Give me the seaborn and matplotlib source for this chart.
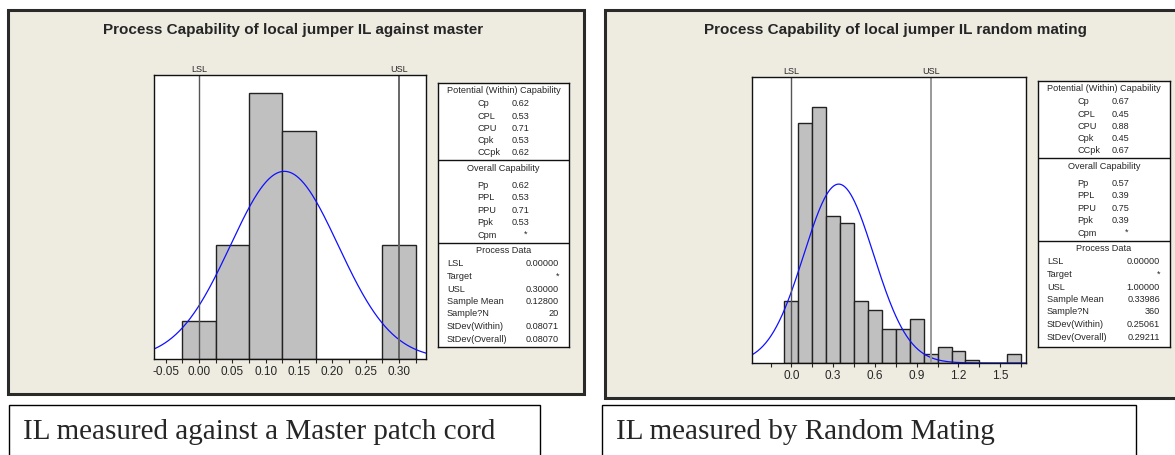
import numpy as np
import matplotlib
matplotlib.use("Agg")
import matplotlib.pyplot as plt
import seaborn as sns
from matplotlib.patches import Rectangle

# ---- data ----
# left: IL measured against a master patch cord (N = 20)
master_edges = [-0.025, 0.025, 0.075, 0.125, 0.175, 0.225, 0.275, 0.325]
master_counts = [1, 3, 7, 6, 0, 0, 3]
master_lsl, master_usl = 0.0, 0.30
master_mean, master_sd = 0.128, 0.08071
master_ticks = [-0.05, 0.00, 0.05, 0.10, 0.15, 0.20, 0.25, 0.30]
master_minor = [-0.025, 0.025, 0.075, 0.125, 0.175, 0.225, 0.275, 0.325]
master_ticklabels = ["-0.05", "0.00", "0.05", "0.10", "0.15", "0.20", "0.25", "0.30"]

# right: IL measured by random mating (N = 360)
random_edges = [-0.05, 0.05, 0.15, 0.25, 0.35, 0.45, 0.55, 0.65, 0.75, 0.85,
                0.95, 1.05, 1.15, 1.25, 1.35, 1.45, 1.55, 1.65]
random_counts = [20, 77, 82, 47, 45, 20, 17, 11, 11, 14, 3, 5, 4, 1, 0, 0, 3]
random_lsl, random_usl = 0.0, 1.0
random_mean, random_sd = 0.33986, 0.25061
random_ticks = [0.0, 0.3, 0.6, 0.9, 1.2, 1.5]
random_minor = [-0.15, 0.15, 0.45, 0.75, 1.05, 1.35, 1.65]
random_ticklabels = ["0.0", "0.3", "0.6", "0.9", "1.2", "1.5"]

master_potential = [("Cp", "0.62"), ("CPL", "0.53"), ("CPU", "0.71"), ("Cpk", "0.53"), ("CCpk", "0.62")]
master_overall = [("Pp", "0.62"), ("PPL", "0.53"), ("PPU", "0.71"), ("Ppk", "0.53"), ("Cpm", "*")]
master_process = [("LSL", "0.00000"), ("Target", "*"), ("USL", "0.30000"), ("Sample Mean", "0.12800"),
                  ("Sample?N", "20"), ("StDev(Within)", "0.08071"), ("StDev(Overall)", "0.08070")]

random_potential = [("Cp", "0.67"), ("CPL", "0.45"), ("CPU", "0.88"), ("Cpk", "0.45"), ("CCpk", "0.67")]
random_overall = [("Pp", "0.57"), ("PPL", "0.39"), ("PPU", "0.75"), ("Ppk", "0.39"), ("Cpm", "*")]
random_process = [("LSL", "0.00000"), ("Target", "*"), ("USL", "1.00000"), ("Sample Mean", "0.33986"),
                  ("Sample?N", "360"), ("StDev(Within)", "0.25061"), ("StDev(Overall)", "0.29211")]

titles = ["Process Capability of local jumper IL against master",
          "Process Capability of local jumper IL random mating"]
captions = ["IL measured against a Master patch cord", "IL measured by Random Mating"]

sns.set_style("white")
plt.rcParams["font.family"] = ["Liberation Sans", "DejaVu Sans"]

W, H = 1175, 455
fig = plt.figure(figsize=(W / 100, H / 100), dpi=100)
fig.patch.set_facecolor("white")
BG = "#eeebe1"


def fr(x0, y0, x1, y1):
    # pixel box (top-left origin) -> figure fraction rect
    return [x0 / W, 1 - y1 / H, (x1 - x0) / W, (y1 - y0) / H]


def frame(x0, y0, x1, y1):
    fig.patches.append(Rectangle((x0 / W, 1 - y1 / H), (x1 - x0) / W, (y1 - y0) / H,
                                 transform=fig.transFigure, facecolor=BG,
                                 edgecolor="#2a2a2a", linewidth=2.2, zorder=-2))


def capability(axbox, tabbox, edges, counts, lsl, usl, mean, sd, xlim, ylim,
               ticks, ticklabels, minor, usl_color, tables):
    ax = fig.add_axes(fr(*axbox))
    ax.set_zorder(2)
    centers = [(a + b) / 2 for a, b in zip(edges[:-1], edges[1:])]
    sns.histplot(x=centers, weights=counts, bins=edges, stat="density",
                 color="#c0c0c0", edgecolor="#222222", linewidth=1.0, alpha=1, ax=ax)
    xs = np.linspace(xlim[0], xlim[1], 300)
    ax.plot(xs, np.exp(-0.5 * ((xs - mean) / sd) ** 2) / (sd * np.sqrt(2 * np.pi)),
            color="#1010ff", lw=0.9)
    ax.axvline(lsl, color="#555555", lw=1.0)
    ax.axvline(usl, color=usl_color, lw=1.4)
    ax.text(lsl, 1.005, "LSL", transform=ax.get_xaxis_transform(), ha="center", va="bottom", fontsize=6.5)
    ax.text(usl, 1.005, "USL", transform=ax.get_xaxis_transform(), ha="center", va="bottom", fontsize=6.5)
    ax.set_xlim(*xlim)
    ax.set_ylim(*ylim)
    ax.set_facecolor("white")
    ax.set_ylabel("")
    ax.set_yticks([])
    ax.set_xticks(ticks)
    ax.set_xticklabels(ticklabels, fontsize=8.5)
    ax.set_xticks(minor, minor=True)
    ax.tick_params(axis="x", which="both", direction="out", length=3, width=0.8,
                   bottom=True, pad=2)
    for s in ax.spines.values():
        s.set_color("#111111")
        s.set_linewidth(1.0)

    tx = fig.add_axes(fr(*tabbox))
    tx.set_zorder(2)
    tw = tabbox[2] - tabbox[0]
    th = tabbox[3] - tabbox[1]
    tx.set_xlim(0, tw)
    tx.set_ylim(th, 0)
    tx.set_xticks([])
    tx.set_yticks([])
    tx.set_facecolor("white")
    for s in tx.spines.values():
        s.set_color("#111111")
        s.set_linewidth(1.0)
    potential, overall, process = tables
    fs = 6.6
    tx.text(tw / 2, 8, "Potential (Within) Capability", ha="center", va="center", fontsize=fs)
    for i, (k, v) in enumerate(potential):
        y = 21 + i * 12.2
        tx.text(0.30 * tw, y, k, ha="left", va="center", fontsize=fs)
        tx.text(0.56 * tw, y, v, ha="left", va="center", fontsize=fs)
    tx.axhline(77, color="#111111", lw=1.0)
    tx.text(tw / 2, 86, "Overall Capability", ha="center", va="center", fontsize=fs)
    for i, (k, v) in enumerate(overall):
        y = 102 + i * 12.6
        tx.text(0.30 * tw, y, k, ha="left", va="center", fontsize=fs)
        if v == "*":
            tx.text(0.67 * tw, y - 1, v, ha="center", va="center", fontsize=fs)
        else:
            tx.text(0.56 * tw, y, v, ha="left", va="center", fontsize=fs)
    tx.axhline(160, color="#111111", lw=1.0)
    tx.text(tw / 2, 168, "Process Data", ha="center", va="center", fontsize=fs)
    for i, (k, v) in enumerate(process):
        y = 181 + i * 12.5
        tx.text(9, y, k, ha="left", va="center", fontsize=fs)
        tx.text(tw - 10, y, v, ha="right", va="center", fontsize=fs)
    return ax


# panel frames
frame(8, 10, 584, 394)
frame(605, 10, 1185, 398)

capability((154, 75, 426, 359), (438, 83, 569, 347), master_edges, master_counts,
           master_lsl, master_usl, master_mean, master_sd, (-0.0675, 0.3405), (0, 7.48),
           master_ticks, master_ticklabels, master_minor, "#666666",
           (master_potential, master_overall, master_process))
capability((752, 77, 1026, 363), (1038, 81, 1170, 347), random_edges, random_counts,
           random_lsl, random_usl, random_mean, random_sd, (-0.283, 1.685), (0, 2.545),
           random_ticks, random_ticklabels, random_minor, "#999999",
           (random_potential, random_overall, random_process))

fig.text(293 / W, 1 - 30 / H, titles[0], ha="center", va="center", fontsize=11, fontweight="bold")
fig.text(895 / W, 1 - 30 / H, titles[1], ha="center", va="center", fontsize=11, fontweight="bold")

# caption boxes below the charts
for (x0, x1), cap in zip([(9, 540), (602, 1136)], captions):
    fig.patches.append(Rectangle((x0 / W, -0.05), (x1 - x0) / W, 1 - 405 / H + 0.05,
                                 transform=fig.transFigure, facecolor="white",
                                 edgecolor="black", linewidth=1.0, zorder=-2))
    fig.text((x0 + 14) / W, 1 - 432 / H, cap, ha="left", va="center", fontsize=21,
             family=["Liberation Serif", "DejaVu Serif"])

fig.savefig("out.png", dpi=100)
